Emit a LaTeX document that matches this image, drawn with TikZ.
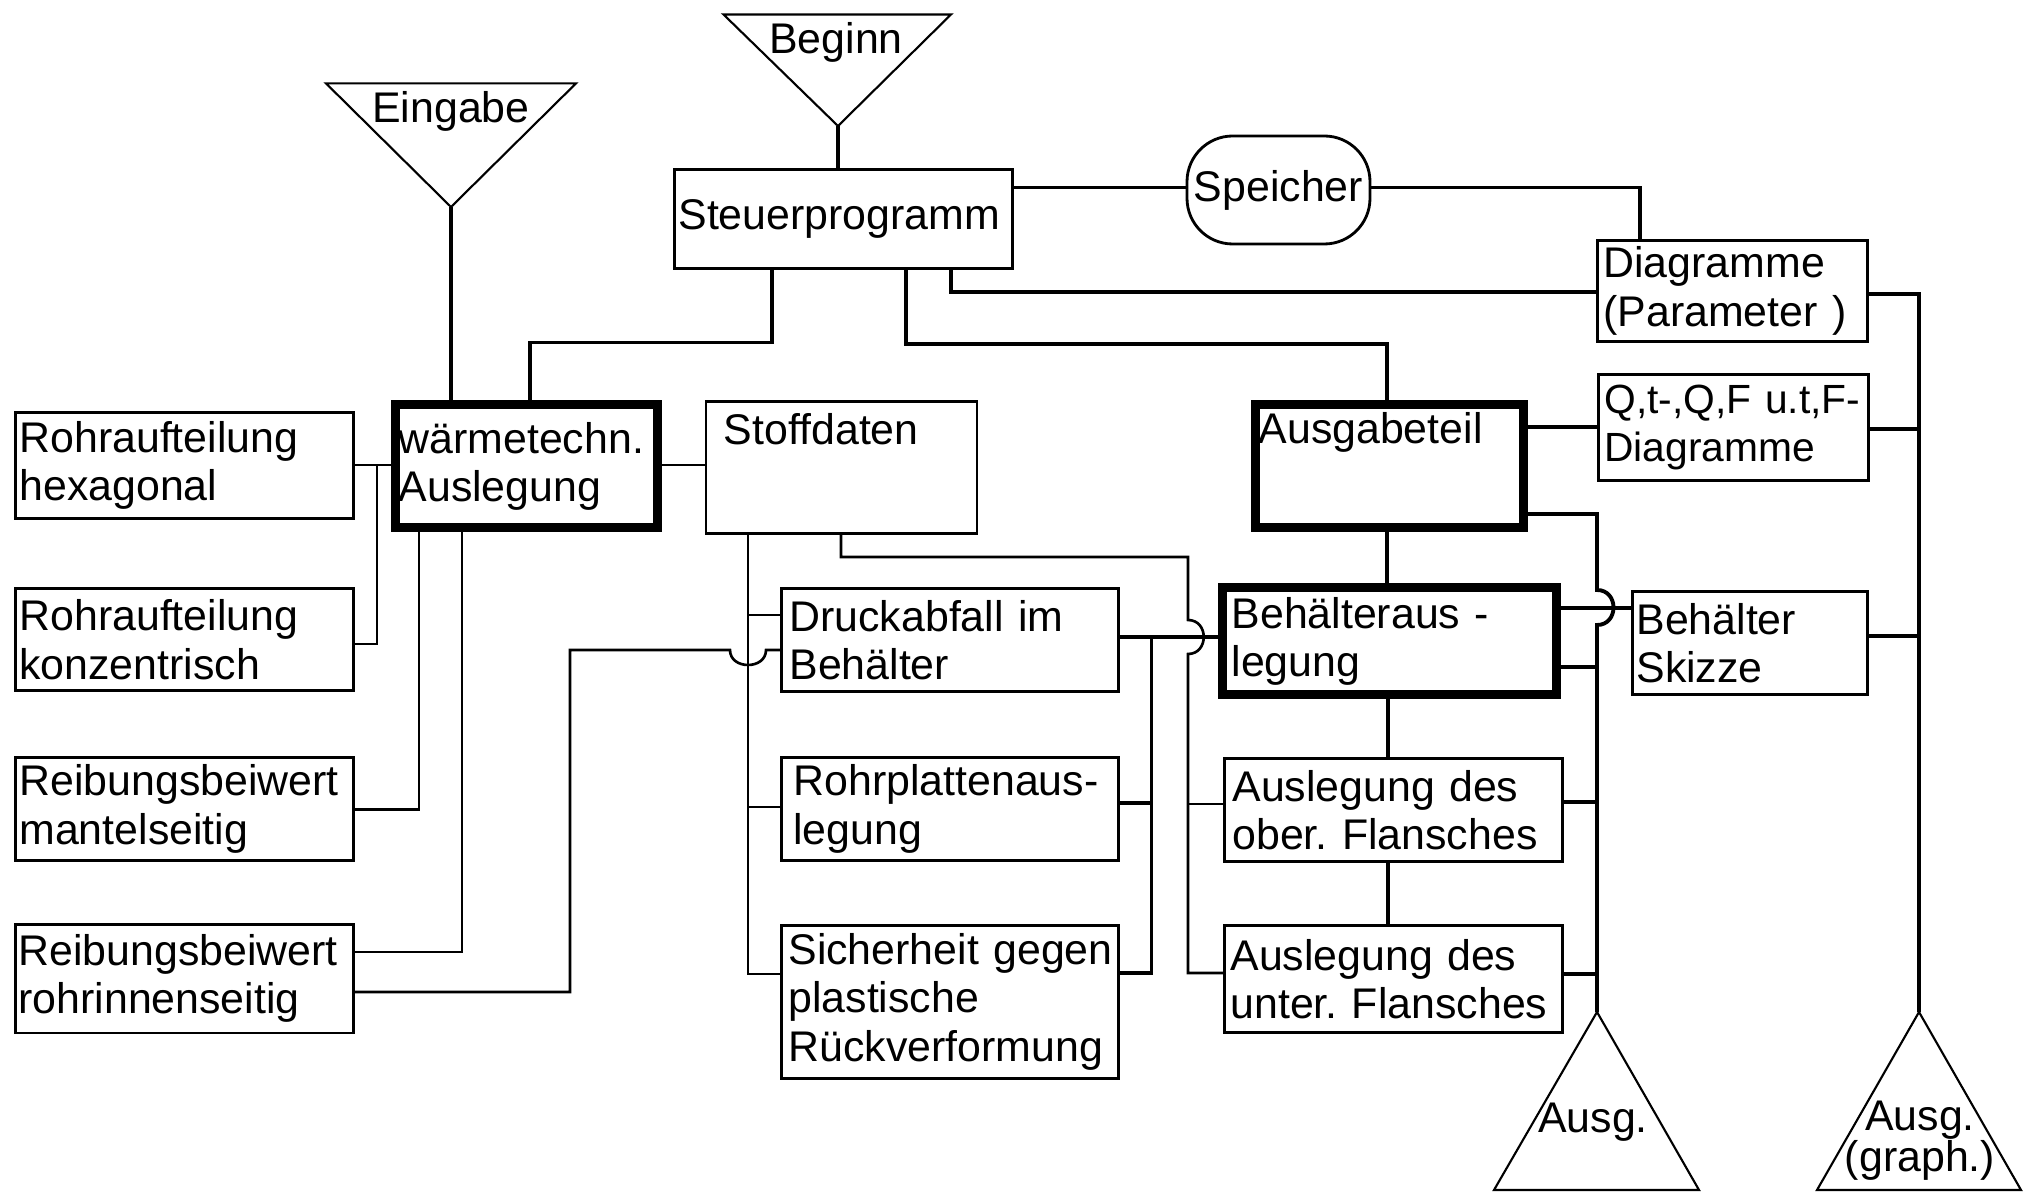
\documentclass[tikz,border=0pt]{standalone}
\usepackage{fontspec}
\setmainfont{Liberation Sans}
\hyphenpenalty=10000
\exhyphenpenalty=10000

\begin{document}
\begin{tikzpicture}[x=1cm, y=-1cm,
	font=\fontsize{12.2}{13.7}\selectfont,
	box/.style={draw=black, line width=0.8pt, anchor=north west, align=left, inner ysep=0pt},
	thickbox/.style={box, line width=2.6pt},
	wire/.style={draw=black, line width=1.1pt},
	thinwire/.style={draw=black, line width=0.75pt},
	funnel/.style={draw=black, line width=0.6pt}]
	\useasboundingbox (0,0) rectangle (20.26,11.93);
	\coordinate (beginnspitze) at (8.38,1.26);
	\coordinate (eingabespitze) at (4.51,2.07);
	\coordinate (ausgspitze) at (15.97,10.12);
	\coordinate (graphspitze) at (19.19,10.12);
	\draw[funnel] (7.235,0.145) -- (9.51,0.145) -- (beginnspitze) -- cycle;
	\draw[funnel] (3.26,0.834) -- (5.76,0.834) -- (eingabespitze) -- cycle;
	\draw[funnel] (ausgspitze) -- (16.99,11.90) -- (14.94,11.90) -- cycle;
	\draw[funnel] (graphspitze) -- (20.21,11.90) -- (18.17,11.90) -- cycle;
	\node[anchor=base] (beginn) at (8.36,0.54) {Beginn};
	\node[anchor=base] (eingabe) at (4.51,1.23) {Eingabe};
	\node[anchor=base] (ausg) at (15.93,11.32) {Ausg.};
	\node[align=center, inner sep=0pt] (ausggraph) at (19.20,11.41) {Ausg.\\[-2pt](graph.)};
	\node[box, inner xsep=0.04cm, minimum width=3.38cm, minimum height=0.99cm, text width=3.30cm] (steuer) at (6.73,1.68) {Steuerprogramm};
	\node[draw=black, line width=0.8pt, rounded corners=13pt, inner sep=0pt, minimum width=1.83cm, minimum height=1.08cm] (speicher) at (12.785,1.90) {Speicher};
	\node[box, inner xsep=0.06cm, minimum width=2.70cm, minimum height=1.01cm, text width=2.58cm] (diagparam) at (15.96,2.39) {Diagramme\\(Parameter )};
	\node[box, inner xsep=0.06cm, minimum width=2.70cm, minimum height=1.06cm, text width=2.58cm, font=\fontsize{11.6}{13.7}\selectfont] (qtdiag) at (15.97,3.73) {Q,t-,Q,F~u.t,F-\\Diagramme};
	\node[thickbox, inner xsep=0.02cm, minimum width=2.68cm, minimum height=1.23cm, text width=2.62cm] (ausgabe) at (12.51,4.00) {Ausgabeteil\\[8pt]\mbox{}};
	\node[thickbox, inner xsep=0.02cm, minimum width=2.62cm, minimum height=1.23cm, text width=2.56cm] (waerme) at (3.91,4.00) {wärmetechn.\\Auslegung};
	\node[box, inner xsep=0.18cm, minimum width=2.71cm, minimum height=1.32cm, text width=2.35cm] (stoff) at (7.045,4.00) {Stoffdaten\\[8pt]\mbox{}};
	\node[box, inner xsep=0.04cm, minimum width=3.38cm, minimum height=1.06cm, text width=3.30cm] (rohrhex) at (0.14,4.11) {Rohraufteilung\\hexagonal};
	\node[box, inner xsep=0.04cm, minimum width=3.38cm, minimum height=1.015cm, text width=3.30cm] (rohrkonz) at (0.14,5.875) {Rohraufteilung\\konzentrisch};
	\node[box, inner xsep=0.04cm, minimum width=3.38cm, minimum height=1.03cm, text width=3.30cm] (reibmantel) at (0.14,7.56) {Reibungsbeiwert\\mantelseitig};
	\node[box, inner xsep=0.03cm, minimum width=3.38cm, minimum height=1.085cm, text width=3.32cm] (reibrohr) at (0.14,9.23) {Reibungsbeiwert\\rohrinnenseitig};
	\node[box, inner xsep=0.08cm, minimum width=3.37cm, minimum height=1.03cm, text width=3.21cm] (druck) at (7.80,5.87) {Druckabfall~im\\Behälter};
	\node[box, inner xsep=0.12cm, minimum width=3.37cm, minimum height=1.03cm, text width=3.13cm] (rohrpl) at (7.80,7.56) {Rohrplattenaus-\\legung};
	\node[box, inner xsep=0.07cm, minimum width=3.37cm, minimum height=1.53cm, text width=3.23cm] (sicher) at (7.80,9.24) {Sicherheit~gegen\\plastische\\Rückverformung};
	\node[thickbox, inner xsep=0.09cm, minimum width=3.34cm, minimum height=1.07cm, text width=3.16cm] (behaelter) at (12.18,5.83) {Behälteraus~-\\legung};
	\node[box, inner xsep=0.08cm, minimum width=3.38cm, minimum height=1.03cm, text width=3.22cm] (obflan) at (12.23,7.57) {Auslegung~des\\ober.~Flansches};
	\node[box, inner xsep=0.06cm, minimum width=3.38cm, minimum height=1.065cm, text width=3.26cm] (unflan) at (12.23,9.245) {Auslegung~des\\unter.~Flansches};
	\node[box, inner xsep=0.04cm, minimum width=2.35cm, minimum height=1.03cm, text width=2.27cm] (skizze) at (16.31,5.90) {Behälter\\Skizze};
	\draw[wire] (beginnspitze) -- (beginnspitze |- steuer.north);
	\draw[wire] (eingabespitze) -- (eingabespitze |- waerme.north);
	\draw[wire] (steuer.south -| 7.72,0) |- (5.30,3.425) -- (waerme.north -| 5.30,0);
	\draw[wire] (steuer.south -| 9.06,0) |- (13.87,3.44) -- (ausgabe.north -| 13.87,0);
	\draw[wire] (steuer.south -| 9.51,0) |- (diagparam.west |- 0,2.92);
	\draw[wire] (steuer.east |- 0,1.875) -- (speicher.west |- 0,1.875);
	\draw[wire] (speicher.east |- 0,1.875) -| (diagparam.north -| 16.40,0);
	\draw[wire] (diagparam.east |- 0,2.94) -| (graphspitze);
	\draw[wire] (qtdiag.east |- 0,4.29) -- (graphspitze |- 0,4.29);
	\draw[wire] (skizze.east |- 0,6.36) -- (graphspitze |- 0,6.36);
	\draw[wire] (ausgabe.east |- 0,4.27) -- (qtdiag.west |- 0,4.27);
	\draw[wire] (ausgabe.east |- 0,5.14) -| (15.97,5.90) .. controls (16.19,5.90) and (16.19,6.25) .. (15.97,6.25) -- (ausgspitze);
	\draw[wire] (behaelter.east |- 0,6.08) -- (skizze.west |- 0,6.08);
	\draw[wire] (behaelter.east |- 0,6.67) -- (ausgspitze |- 0,6.67);
	\draw[wire] (obflan.east |- 0,8.02) -- (ausgspitze |- 0,8.02);
	\draw[wire] (unflan.east |- 0,9.74) -- (ausgspitze |- 0,9.74);
	\draw[wire] (ausgabe.south -| 13.87,0) -- (behaelter.north -| 13.87,0);
	\draw[wire] (behaelter.south -| 13.88,0) -- (obflan.north -| 13.88,0);
	\draw[wire] (obflan.south -| 13.88,0) -- (unflan.north -| 13.88,0);
	\coordinate (stoffbus) at (7.48,5.32);
	\draw[thinwire] (stoff.south -| stoffbus) |- (sicher.west |- 0,9.74);
	\draw[thinwire] (stoffbus |- 0,6.15) -- (druck.west |- 0,6.15);
	\draw[thinwire] (stoffbus |- 0,8.07) -- (rohrpl.west |- 0,8.07);
	\coordinate (flanschbus) at (11.88,5.57);
	\draw[thinwire] (stoff.south -| 8.41,0) |- (flanschbus) -- (11.88,6.20) .. controls (12.09,6.20) and (12.09,6.54) .. (11.88,6.54) |- (unflan.west |- 0,9.73);
	\draw[thinwire] (flanschbus |- 0,8.04) -- (obflan.west |- 0,8.04);
	\draw[wire] (druck.east |- 0,6.37) -- (behaelter.west |- 0,6.37);
	\coordinate (druckbus) at (11.515,6.37);
	\draw[wire] (druckbus) |- (sicher.east |- 0,9.73);
	\draw[wire] (druckbus |- 0,8.03) -- (rohrpl.east |- 0,8.03);
	\draw[thinwire] (waerme.east |- 0,4.65) -- (stoff.west |- 0,4.65);
	\draw[thinwire] (rohrhex.east |- 0,4.65) -- (waerme.west |- 0,4.65);
	\coordinate (hexbus) at (3.77,4.65);
	\draw[thinwire] (rohrkonz.east |- 0,6.44) -| (hexbus);
	\draw[thinwire] (reibmantel.east |- 0,8.095) -| (waerme.south -| 4.19,0);
	\draw[thinwire] (reibrohr.east |- 0,9.52) -| (waerme.south -| 4.62,0);
	\draw[thinwire] (reibrohr.east |- 0,9.92) -| (5.70,6.50) -- (7.30,6.50) .. controls (7.30,6.70) and (7.66,6.70) .. (7.66,6.50) -- (druck.west |- 0,6.50);
\end{tikzpicture}
\end{document}
